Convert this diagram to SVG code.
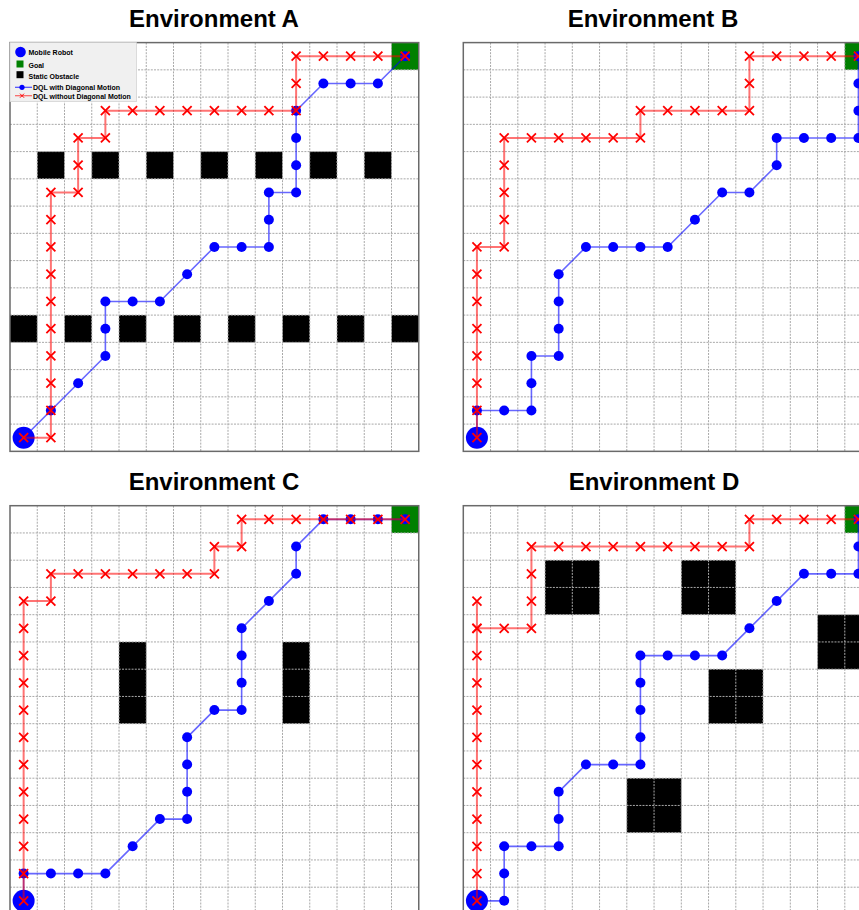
<svg xmlns="http://www.w3.org/2000/svg" xmlns:xlink="http://www.w3.org/1999/xlink" width="859" height="910" viewBox="0 0 859 910">
<style>
.grid{fill:none;stroke:#a8a8a8;stroke-width:1;stroke-dasharray:2 1.2}
.border{fill:none;stroke:#6a6a6a;stroke-width:1.5}
.obs{fill:#000}
.goal{fill:#008000}
.blue{fill:none;stroke:#0000ff;stroke-opacity:0.6;stroke-width:1.6;marker-start:url(#dot);marker-mid:url(#dot);marker-end:url(#dot)}
.red{fill:none;stroke:#ff0000;stroke-opacity:0.55;stroke-width:2;marker-start:url(#xm);marker-mid:url(#xm);marker-end:url(#xm)}
.robot{fill:#0000ff}
.title{font-family:"Liberation Sans",Arial,sans-serif;font-weight:bold;font-size:24px;text-anchor:middle;fill:#000}
.leg{font-family:"Liberation Sans",Arial,sans-serif;font-weight:bold;font-size:7px;fill:#000}
</style>
<defs>
<marker id="dot" markerUnits="userSpaceOnUse" markerWidth="12" markerHeight="12" refX="6" refY="6" overflow="visible"><circle cx="6" cy="6" r="5" fill="#0000ff"/></marker>
<marker id="xm" markerUnits="userSpaceOnUse" markerWidth="12" markerHeight="12" refX="6" refY="6" overflow="visible"><path d="M1.5 1.5L10.5 10.5M10.5 1.5L1.5 10.5" stroke="#ff0000" stroke-width="1.8" fill="none"/></marker>
<path id="gridlines" class="grid" d="M27.25 0V408.75M54.5 0V408.75M81.75 0V408.75M109 0V408.75M136.25 0V408.75M163.5 0V408.75M190.75 0V408.75M218 0V408.75M245.25 0V408.75M272.5 0V408.75M299.75 0V408.75M327 0V408.75M354.25 0V408.75M381.5 0V408.75M0 27.25H408.75M0 54.5H408.75M0 81.75H408.75M0 109H408.75M0 136.25H408.75M0 163.5H408.75M0 190.75H408.75M0 218H408.75M0 245.25H408.75M0 272.5H408.75M0 299.75H408.75M0 327H408.75M0 354.25H408.75M0 381.5H408.75"/>
</defs>
<rect width="859" height="910" fill="#fff"/>

<g id="titles">
<text class="title" x="214" y="27">Environment A</text>
<text class="title" x="653" y="27">Environment B</text>
<text class="title" x="214" y="489.5">Environment C</text>
<text class="title" x="654" y="489.5">Environment D</text>
</g>

<g id="panelA" transform="translate(10,42.6)">
<g id="obstaclesA">
<rect class="obs" x="27.25" y="109" width="27.25" height="27.25"/>
<rect class="obs" x="81.75" y="109" width="27.25" height="27.25"/>
<rect class="obs" x="136.25" y="109" width="27.25" height="27.25"/>
<rect class="obs" x="190.75" y="109" width="27.25" height="27.25"/>
<rect class="obs" x="245.25" y="109" width="27.25" height="27.25"/>
<rect class="obs" x="299.75" y="109" width="27.25" height="27.25"/>
<rect class="obs" x="354.25" y="109" width="27.25" height="27.25"/>
<rect class="obs" x="0" y="272.5" width="27.25" height="27.25"/>
<rect class="obs" x="54.5" y="272.5" width="27.25" height="27.25"/>
<rect class="obs" x="109" y="272.5" width="27.25" height="27.25"/>
<rect class="obs" x="163.5" y="272.5" width="27.25" height="27.25"/>
<rect class="obs" x="218" y="272.5" width="27.25" height="27.25"/>
<rect class="obs" x="272.5" y="272.5" width="27.25" height="27.25"/>
<rect class="obs" x="327" y="272.5" width="27.25" height="27.25"/>
<rect class="obs" x="381.5" y="272.5" width="27.25" height="27.25"/>
</g>
<rect id="goalA" class="goal" x="381.5" y="0" width="27.25" height="27.25"/>
<use href="#gridlines"/>
<rect class="border" x="0" y="0" width="408.75" height="408.75"/>
<g id="connectorsA">
<polyline id="blueA" class="blue" points="13.63,395.13 40.88,367.88 68.13,340.63 95.38,313.38 95.38,286.13 95.38,258.88 122.63,258.88 149.88,258.88 177.13,231.63 204.38,204.38 231.63,204.38 258.88,204.38 258.88,177.13 258.88,149.88 286.13,149.88 286.13,122.63 286.13,95.38 286.13,68.13 313.38,40.88 340.63,40.88 367.88,40.88 395.13,13.63"/>
<circle id="robotA" class="robot" cx="13.63" cy="395.13" r="11"/>
<polyline id="redA" class="red" points="13.63,395.13 40.88,395.13 40.88,367.88 40.88,340.63 40.88,313.38 40.88,286.13 40.88,258.88 40.88,231.63 40.88,204.38 40.88,177.13 40.88,149.88 68.13,149.88 68.13,122.63 68.13,95.38 95.38,95.38 95.38,68.13 122.63,68.13 149.88,68.13 177.13,68.13 204.38,68.13 231.63,68.13 258.88,68.13 286.13,68.13 286.13,40.88 286.13,13.63 313.38,13.63 340.63,13.63 367.88,13.63 395.13,13.63"/>
</g>
<g id="legend" transform="translate(-10,-42.6)">
<rect x="10" y="42.6" width="126.5" height="59" fill="#f0f0f0" stroke="#d4d4d4" stroke-width="0.8"/>
<circle cx="20.5" cy="52" r="5.3" fill="#0000ff"/>
<text class="leg" x="28.5" y="55">Mobile Robot</text>
<rect x="16.5" y="60.5" width="7" height="7" fill="#008000"/>
<text class="leg" x="28.5" y="67.5">Goal</text>
<rect x="16.5" y="71.2" width="7" height="7" fill="#000"/>
<text class="leg" x="28.5" y="78.5">Static Obstacle</text>
<line x1="15" y1="87.3" x2="32" y2="87.3" stroke="#0000ff" stroke-opacity="0.7" stroke-width="1.2"/>
<circle cx="22" cy="87.3" r="2.6" fill="#0000ff"/>
<text class="leg" x="33" y="90">DQL with Diagonal Motion</text>
<line x1="15" y1="95.7" x2="32" y2="95.7" stroke="#ff0000" stroke-opacity="0.6" stroke-width="1.2"/>
<path d="M20 93.7L24 97.7M24 93.7L20 97.7" stroke="#ff0000" stroke-width="1"/>
<text class="leg" x="33" y="98.5">DQL without Diagonal Motion</text>
</g>
</g>

<g id="panelB" transform="translate(463.3,42.6)">
<rect id="goalB" class="goal" x="381.5" y="0" width="27.25" height="27.25"/>
<use href="#gridlines"/>
<rect class="border" x="0" y="0" width="408.75" height="408.75"/>
<g id="connectorsB">
<polyline id="blueB" class="blue" points="13.63,395.13 13.63,367.88 40.88,367.88 68.13,367.88 68.13,340.63 68.13,313.38 95.38,313.38 95.38,286.13 95.38,258.88 95.38,231.63 122.63,204.38 149.88,204.38 177.13,204.38 204.38,204.38 231.63,177.13 258.88,149.88 286.13,149.88 313.38,122.63 313.38,95.38 340.63,95.38 367.88,95.38 395.13,95.38 395.13,68.13 395.13,40.88 395.13,13.63"/>
<circle id="robotB" class="robot" cx="13.63" cy="395.13" r="11"/>
<polyline id="redB" class="red" points="13.63,395.13 13.63,367.88 13.63,340.63 13.63,313.38 13.63,286.13 13.63,258.88 13.63,231.63 13.63,204.38 40.88,204.38 40.88,177.13 40.88,149.88 40.88,122.63 40.88,95.38 68.13,95.38 95.38,95.38 122.63,95.38 149.88,95.38 177.13,95.38 177.13,68.13 204.38,68.13 231.63,68.13 258.88,68.13 286.13,68.13 286.13,40.88 286.13,13.63 313.38,13.63 340.63,13.63 367.88,13.63 395.13,13.63"/>
</g>
</g>

<g id="panelC" transform="translate(10,505.7)">
<g id="obstaclesC">
<rect class="obs" x="109" y="136.25" width="27.25" height="81.75"/>
<rect class="obs" x="272.5" y="136.25" width="27.25" height="81.75"/>
</g>
<rect id="goalC" class="goal" x="381.5" y="0" width="27.25" height="27.25"/>
<use href="#gridlines"/>
<rect class="border" x="0" y="0" width="408.75" height="408.75"/>
<g id="connectorsC">
<polyline id="blueC" class="blue" points="13.63,395.13 13.63,367.88 40.88,367.88 68.13,367.88 95.38,367.88 122.63,340.63 149.88,313.38 177.13,313.38 177.13,286.13 177.13,258.88 177.13,231.63 204.38,204.38 231.63,204.38 231.63,177.13 231.63,149.88 231.63,122.63 258.88,95.38 286.13,68.13 286.13,40.88 313.38,13.63 340.63,13.63 367.88,13.63 395.13,13.63"/>
<circle id="robotC" class="robot" cx="13.63" cy="395.13" r="11"/>
<polyline id="redC" class="red" points="13.63,395.13 13.63,367.88 13.63,340.63 13.63,313.38 13.63,286.13 13.63,258.88 13.63,231.63 13.63,204.38 13.63,177.13 13.63,149.88 13.63,122.63 13.63,95.38 40.88,95.38 40.88,68.13 68.13,68.13 95.38,68.13 122.63,68.13 149.88,68.13 177.13,68.13 204.38,68.13 204.38,40.88 231.63,40.88 231.63,13.63 258.88,13.63 286.13,13.63 313.38,13.63 340.63,13.63 367.88,13.63 395.13,13.63"/>
</g>
</g>

<g id="panelD" transform="translate(463.3,505.7)">
<g id="obstaclesD">
<rect class="obs" x="81.75" y="54.5" width="54.5" height="54.5"/>
<rect class="obs" x="218" y="54.5" width="54.5" height="54.5"/>
<rect class="obs" x="354.25" y="109" width="54.5" height="54.5"/>
<rect class="obs" x="245.25" y="163.5" width="54.5" height="54.5"/>
<rect class="obs" x="163.5" y="272.5" width="54.5" height="54.5"/>
</g>
<rect id="goalD" class="goal" x="381.5" y="0" width="27.25" height="27.25"/>
<use href="#gridlines"/>
<rect class="border" x="0" y="0" width="408.75" height="408.75"/>
<g id="connectorsD">
<polyline id="blueD" class="blue" points="13.63,395.13 40.88,395.13 40.88,367.88 40.88,340.63 68.13,340.63 95.38,340.63 95.38,313.38 95.38,286.13 122.63,258.88 149.88,258.88 177.13,258.88 177.13,231.63 177.13,204.38 177.13,177.13 177.13,149.88 204.38,149.88 231.63,149.88 258.88,149.88 286.13,122.63 313.38,95.38 340.63,68.13 367.88,68.13 395.13,68.13 395.13,40.88 395.13,13.63"/>
<circle id="robotD" class="robot" cx="13.63" cy="395.13" r="11"/>
<polyline id="redD1" class="red" points="13.63,395.13 13.63,367.88 13.63,340.63 13.63,313.38 13.63,286.13 13.63,258.88 13.63,231.63 13.63,204.38 13.63,177.13 13.63,149.88 13.63,122.63 13.63,95.38"/>
<polyline id="redD2" class="red" points="13.63,122.63 40.88,122.63 68.13,122.63 68.13,95.38 68.13,68.13 68.13,40.88 95.38,40.88 122.63,40.88 149.88,40.88 177.13,40.88 204.38,40.88 231.63,40.88 258.88,40.88 286.13,40.88 286.13,13.63 313.38,13.63 340.63,13.63 367.88,13.63 395.13,13.63"/>
</g>
</g>
</svg>
